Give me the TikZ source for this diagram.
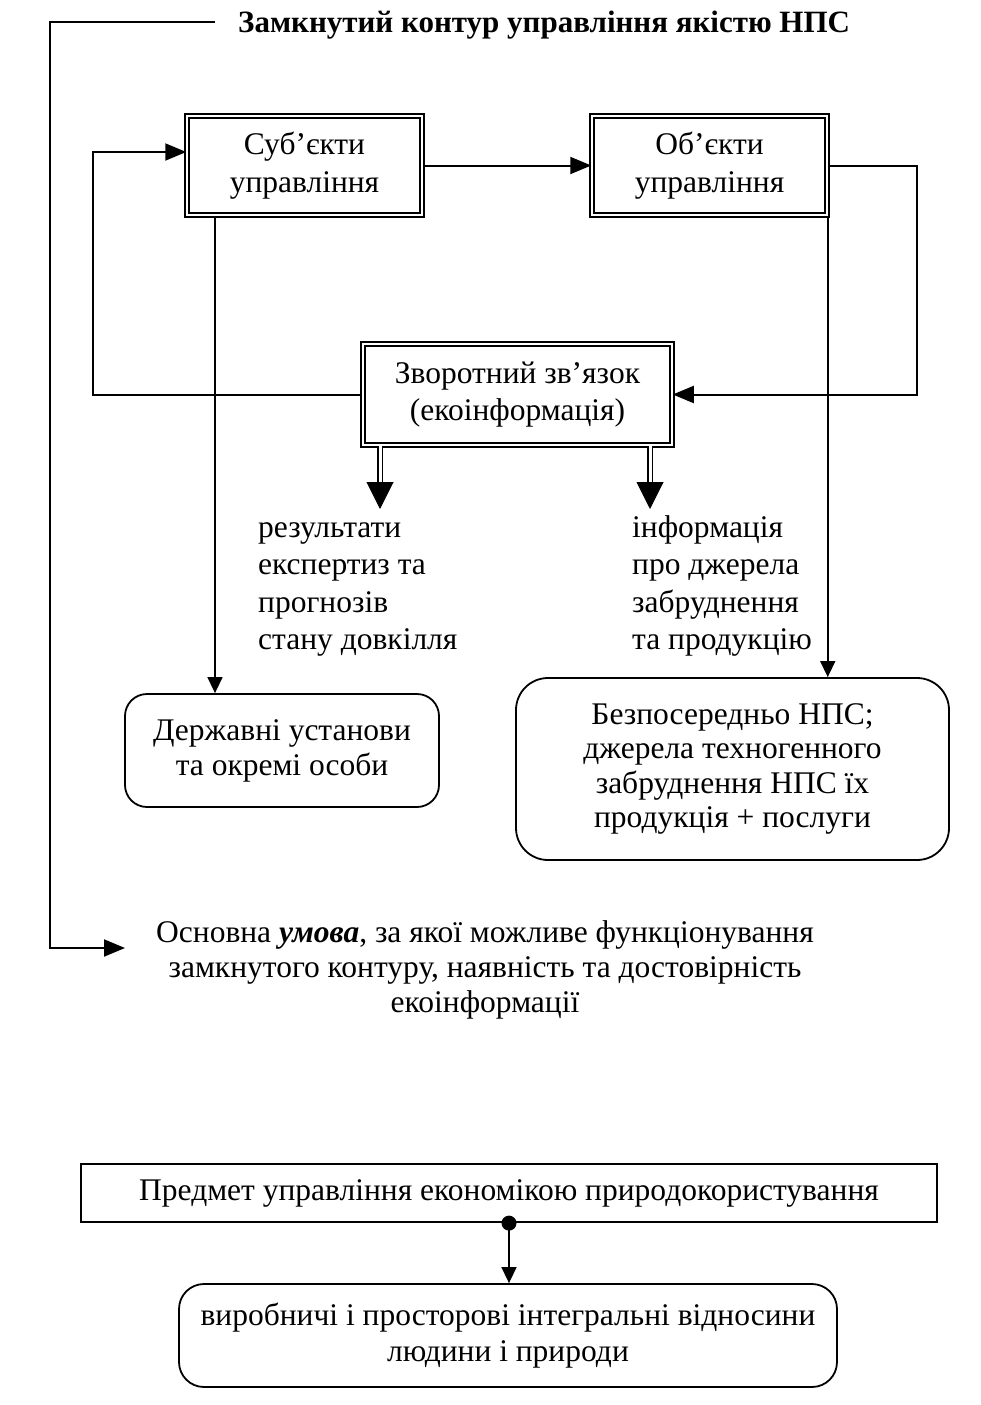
\documentclass[tikz,border=0pt]{standalone}
\usepackage{fontspec}
\setmainfont{Liberation Serif}
\usetikzlibrary{arrows.meta}
\tikzset{
  textnode/.style = {align=center, inner sep=0pt, text centered,
    font=\fontsize{31.5}{37}\selectfont},
  box_d/.style = {textnode, rectangle, draw, double, double distance=2.6pt,
    line width=1.5pt, minimum width=235pt, minimum height=99pt,
    font=\fontsize{31.5}{38}\selectfont},% cadre double
  box_r/.style = {textnode, rectangle, draw, line width=1.8pt,
    rounded corners=22pt},% cadre arrondi
  box_p/.style = {textnode, rectangle, draw, line width=2.2pt,
    minimum width=856pt, minimum height=58pt},% cadre simple
  list_n/.style = {textnode, align=left, font=\fontsize{31.5}{37.4}\selectfont},% liste sous les fleches
  arr_b/.style = {-{Triangle[width=17pt,length=21pt]}, line width=2pt},% grosse fleche
  arr_s/.style = {-{Triangle[width=15pt,length=16pt]}, line width=1.5pt},% petite fleche
  shaft/.style = {double, double distance=3pt, line width=1.3pt},% tige double
}
\begin{document}
\begin{tikzpicture}[x=1pt,y=-1pt]
\useasboundingbox (0,0) rectangle (981,1405);
\node [textnode, font=\fontsize{31}{36}\selectfont\bfseries, anchor=base west] (T) at (238,33)
  {Замкнутий контур управління якістю НПС};
\node [box_d] (S) at (304.5,165.5) {Суб’єкти\\управління};
\node [box_d] (O) at (709.5,165.5) {Об’єкти\\управління};
\node [box_d, minimum width=309pt, minimum height=101pt, font=\fontsize{31.5}{37}\selectfont] (F) at (517.5,394.5)
  {Зворотний зв’язок\\(екоінформація)};
\node [list_n, anchor=north west] (L1) at (258,511)
  {\strut результати\\експертиз та\\прогнозів\\стану довкілля};
\node [list_n, anchor=north west] (L2) at (632,511)
  {\strut інформація\\про джерела\\забруднення\\та продукцію};
\node [box_r, minimum width=314pt, minimum height=113pt, font=\fontsize{31.5}{35}\selectfont] (G) at (282,750.5)
  {Державні установи\\та окремі особи};
\node [box_r, minimum width=433pt, minimum height=182pt, rounded corners=32pt,
  font=\fontsize{31.5}{34.5}\selectfont] (B) at (732.5,769)
  {Безпосередньо НПС;\\джерела техногенного\\забруднення НПС їх\\продукція + послуги};
\node [textnode, font=\fontsize{31.5}{35}\selectfont] (C) at (485,970)
  {Основна \textbf{\textit{умова}}, за якої можливе функціонування\\
   замкнутого контуру, наявність та достовірність\\екоінформації};
\node [box_p] (P) at (509,1193) {Предмет управління економікою природокористування};
\node [box_r, minimum width=658pt, minimum height=103pt, rounded corners=25pt,
  font=\fontsize{31.5}{36}\selectfont] (V) at (508,1335.5)
  {виробничі і просторові інтегральні відносини\\людини і природи};
% contour exterieur
\coordinate (tl) at (50,22);
\coordinate (ca) at (125,948);
\draw [arr_b] (215,22) -- (tl) |- (ca);
% boucle de gestion
\draw [arr_b] (S) -- (O);
\coordinate (lx) at (93,152);
\draw [arr_b] (F.west) -| (lx) -- (S.west |- lx);
\coordinate (rx) at (917,165.5);
\draw [arr_b] (O.east) -- (rx) |- (F.east);
% fleches doubles
\coordinate (d1) at (380,482);
\coordinate (d2) at (650,482);
\draw [shaft] (F.south -| d1) -- (d1);
\draw [shaft] (F.south -| d2) -- (d2);
\draw [-{Triangle[width=27pt,length=27pt]}, line width=1pt] (d1) -- ++(0,27);
\draw [-{Triangle[width=27pt,length=27pt]}, line width=1pt] (d2) -- ++(0,27);
% vers les destinataires
\coordinate (sx) at (215,0);
\draw [arr_s] (S.south -| sx) -- (G.north -| sx);
\draw [arr_s] (O.south east) -- (B.north -| O.south east);
% objet de gestion
\fill (P.south) circle (7.5pt);
\draw [arr_s] (P.south) -- (V.north -| P.south);
\end{tikzpicture}
\end{document}
